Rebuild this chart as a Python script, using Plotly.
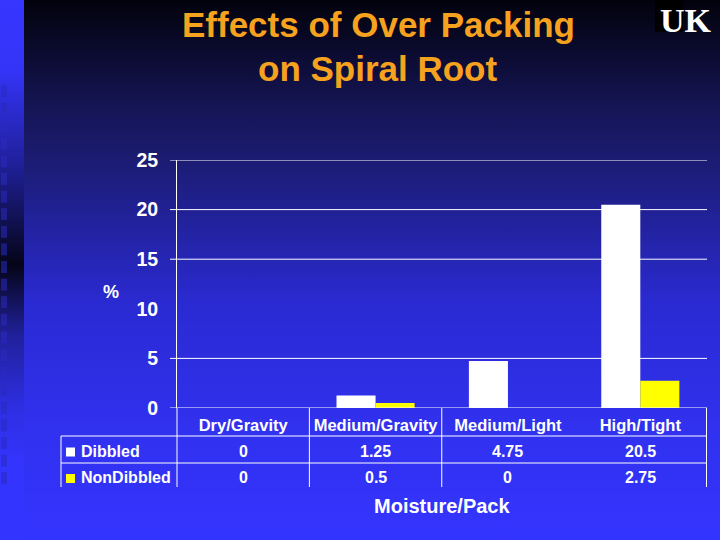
import base64
import plotly.graph_objects as go

# ---------------- data ----------------
categories = ["Dry/Gravity", "Medium/Gravity", "Medium/Light", "High/Tight"]
dibbled = [0, 1.25, 4.75, 20.5]
non_dibbled = [0, 0.5, 0, 2.75]
series_names = ["Dibbled", "NonDibbled"]
y_tick_values = [0, 5, 10, 15, 20, 25]
gridline_values = [0, 5, 15, 20, 25]

title_lines = ["Effects of Over Packing", "on Spiral Root"]
x_title = "Moisture/Pack"
y_title = "%"

# ---------------- geometry helpers (pixels -> paper) ----------------
W, H = 720, 540
PL, PR, PT, PB = 177, 707, 160, 408
pw, ph = PR - PL, PB - PT


def px(x):
    return (x - PL) / pw


def py(y):
    return (PB - y) / ph


FONT = "Liberation Sans, Arial, sans-serif"
WHITE = "#ffffff"
YELLOW = "#ffff00"
ORANGE = "#f6a21e"

# ---------------- background (gradient slide) ----------------
squares = "".join(
    f'<rect x="1" y="{85 + i * 17.6:.1f}" width="6" height="12" fill="#2a2ac0" fill-opacity="0.55"/>'
    for i in range(23)
)
svg = f'''<svg xmlns="http://www.w3.org/2000/svg" width="720" height="540" viewBox="0 0 720 540" preserveAspectRatio="none">
<defs>
<linearGradient id="m" x1="0" y1="0" x2="0" y2="1">
<stop offset="0" stop-color="#02020c"/>
<stop offset="0.19" stop-color="#141452"/>
<stop offset="0.30" stop-color="#1c1c74"/>
<stop offset="0.56" stop-color="#2a2ad2"/>
<stop offset="0.80" stop-color="#3131f0"/>
<stop offset="1" stop-color="#3434ff"/>
</linearGradient>
<linearGradient id="s" x1="0" y1="0" x2="0" y2="1">
<stop offset="0" stop-color="#3636ff"/>
<stop offset="0.13" stop-color="#3434f8"/>
<stop offset="0.30" stop-color="#20209c"/>
<stop offset="0.49" stop-color="#050518"/>
<stop offset="0.62" stop-color="#20209a"/>
<stop offset="0.75" stop-color="#2e2ee0"/>
<stop offset="0.86" stop-color="#3434ff"/>
<stop offset="1" stop-color="#3434ff"/>
</linearGradient>
</defs>
<rect x="0" y="0" width="720" height="540" fill="url(#m)"/>
<rect x="0" y="0" width="24" height="540" fill="url(#s)"/>
{squares}
</svg>'''
bg_uri = "data:image/svg+xml;base64," + base64.b64encode(svg.encode()).decode()

# ---------------- figure ----------------
fig = go.Figure()
fig.add_trace(go.Bar(x=categories, y=dibbled, name=series_names[0],
                     marker=dict(color=WHITE, line=dict(width=0)),
                     showlegend=False, hoverinfo="skip"))
fig.add_trace(go.Bar(x=categories, y=non_dibbled, name=series_names[1],
                     marker=dict(color=YELLOW, line=dict(width=0)),
                     showlegend=False, hoverinfo="skip"))

shapes = []
# gridlines (with tick stubs to the left of the axis)
for v in gridline_values:
    shapes.append(dict(type="line", xref="paper", yref="y", x0=px(170), x1=1,
                       y0=v, y1=v, line=dict(color=WHITE, width=1)))
# data-table lines
shapes.append(dict(type="line", xref="paper", yref="paper", x0=0, x1=0,
                   y0=0, y1=py(487), line=dict(color=WHITE, width=1)))
for xb in [0.5, 1.5, 3.5]:
    shapes.append(dict(type="line", xref="x", yref="paper", x0=xb, x1=xb,
                       y0=0, y1=py(487), line=dict(color=WHITE, width=1)))
shapes.append(dict(type="line", xref="paper", yref="paper", x0=px(61), x1=px(61),
                   y0=py(436), y1=py(487), line=dict(color=WHITE, width=1)))
for yy in [436, 463]:
    shapes.append(dict(type="line", xref="paper", yref="paper", x0=px(61), x1=1,
                       y0=py(yy), y1=py(yy), line=dict(color=WHITE, width=1)))
# legend keys in the table
for (y0, y1), col in zip([(447.5, 456.5), (474, 483)], [WHITE, YELLOW]):
    shapes.append(dict(type="rect", xref="paper", yref="paper",
                       x0=px(66), x1=px(75), y0=py(y1), y1=py(y0),
                       fillcolor=col, line=dict(width=0)))
# logo box
shapes.append(dict(type="rect", xref="paper", yref="paper",
                   x0=px(655), x1=px(683), y0=py(32), y1=py(-2),
                   fillcolor="#000000", line=dict(width=0)))

annotations = []
# title
for line, yc in zip(title_lines, [25, 68]):
    annotations.append(dict(text=line, xref="paper", yref="paper", x=px(378), y=py(yc),
                            xanchor="center", yanchor="middle", showarrow=False,
                            font=dict(family=FONT, size=35, color=ORANGE, weight="bold")))
# logo text
annotations.append(dict(text="UK", xref="paper", yref="paper", x=px(686), y=py(0),
                        xanchor="center", yanchor="top", showarrow=False,
                        font=dict(family="Liberation Serif, Times New Roman, serif", size=34,
                                  color=WHITE, weight="bold")))
# y title
annotations.append(dict(text=y_title, xref="paper", yref="paper", x=px(111), y=py(292),
                        xanchor="center", yanchor="middle", showarrow=False,
                        font=dict(family=FONT, size=18, color=WHITE, weight="bold")))
# x title
annotations.append(dict(text=x_title, xref="paper", yref="paper", x=0.5, y=py(506),
                        xanchor="center", yanchor="middle", showarrow=False,
                        font=dict(family=FONT, size=20, color=WHITE, weight="bold")))
# table rows
for name, vals, yc in zip(series_names, [dibbled, non_dibbled], [451, 477]):
    annotations.append(dict(text=name, xref="paper", yref="paper", x=px(79), y=py(yc),
                            xanchor="left", yanchor="middle", showarrow=False,
                            font=dict(family=FONT, size=16, color=WHITE, weight="bold")))
    for cat, v in zip(categories, vals):
        annotations.append(dict(text=f"{v:g}", xref="x", yref="paper", x=cat, y=py(yc),
                                xanchor="center", yanchor="middle", showarrow=False,
                                font=dict(family=FONT, size=16, color=WHITE, weight="bold")))

fig.update_layout(
    width=W, height=H,
    margin=dict(l=PL, r=W - PR, t=PT, b=H - PB, pad=0),
    paper_bgcolor="#1a1a80",
    plot_bgcolor="rgba(0,0,0,0)",
    barmode="group", bargap=0.41, bargroupgap=0,
    showlegend=False,
    shapes=shapes,
    annotations=annotations,
    images=[dict(source=bg_uri, xref="paper", yref="paper",
                 x=-PL / pw, y=PB / ph, sizex=W / pw, sizey=H / ph,
                 xanchor="left", yanchor="top", sizing="stretch", layer="below")],
    xaxis=dict(showgrid=False, zeroline=False, showline=False,
               ticks="outside", ticklen=2, tickcolor="rgba(0,0,0,0)",
               tickfont=dict(family=FONT, size=16.5, color=WHITE, weight="bold"),
               fixedrange=True),
    yaxis=dict(range=[0, 25], tickvals=y_tick_values, showgrid=False, zeroline=False,
               showline=True, linecolor=WHITE, linewidth=1,
               ticks="outside", ticklen=14, tickcolor="rgba(0,0,0,0)",
               tickfont=dict(family=FONT, size=19.5, color=WHITE, weight="bold"),
               fixedrange=True),
)

fig.write_html("out.html", config={"displayModeBar": False},
               post_script="document.body.style.margin='0';document.body.style.padding='0';")
